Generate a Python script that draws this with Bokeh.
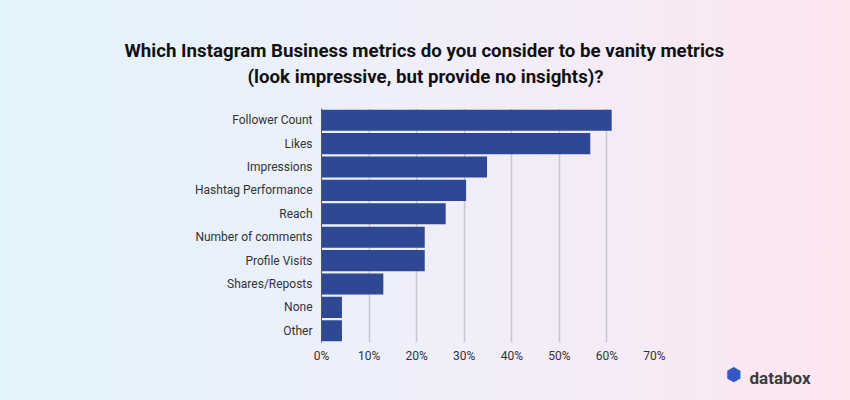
from bokeh.plotting import figure
from bokeh.models import (FactorRange, Range1d, FixedTicker, NumeralTickFormatter,
                          Title, InlineStyleSheet)
from bokeh.embed import file_html
from bokeh.resources import INLINE

# ---- data ----
categories = ["Follower Count", "Likes", "Impressions", "Hashtag Performance", "Reach",
              "Number of comments", "Profile Visits", "Shares/Reposts", "None", "Other"]
shares = [0.61, 0.565, 0.348, 0.304, 0.261, 0.217, 0.217, 0.13, 0.043, 0.043]
x_ticks = [0, 0.1, 0.2, 0.3, 0.4, 0.5, 0.6, 0.7]
title_lines = ["Which Instagram Business metrics do you consider to be vanity metrics",
               "(look impressive, but provide no insights)?"]
brand = "databox"

W, H = 850, 400
p = figure(width=W, height=H, output_backend="svg", toolbar_location=None,
           y_range=FactorRange(factors=list(reversed(categories)), range_padding=0),
           x_range=Range1d(0, 0.70),
           min_border_left=321, min_border_right=196, min_border_top=108, min_border_bottom=58)

p.hbar(y=categories, right=shares, left=0, height=0.9, color="#2e4894", line_color=None)

p.background_fill_alpha = 0
p.border_fill_alpha = 0
p.outline_line_color = None
p.stylesheets = [InlineStyleSheet(css=":host { background: linear-gradient(90deg, #e2f4fc 0%, #efeffa 50%, #fde6f0 100%); }")]

p.ygrid.grid_line_color = None
p.xgrid.grid_line_color = "#c6c6ce"
p.xgrid.grid_line_width = 1.5

p.xaxis.ticker = FixedTicker(ticks=x_ticks)
p.xaxis.formatter = NumeralTickFormatter(format="0%")
p.xaxis.axis_line_color = None
p.xaxis.major_tick_line_color = None
p.xaxis.minor_tick_line_color = None
p.xaxis.major_tick_out = 0
p.xaxis.major_tick_in = 0
p.xaxis.minor_tick_out = 0
p.xaxis.major_label_standoff = 6
p.xaxis.major_label_text_font = "Roboto"
p.xaxis.major_label_text_font_size = "12px"
p.xaxis.major_label_text_color = "#333333"

p.yaxis.axis_line_color = "#555555"
p.yaxis.axis_line_width = 1
p.yaxis.major_tick_line_color = None
p.yaxis.minor_tick_line_color = None
p.yaxis.major_tick_out = 0
p.yaxis.major_tick_in = 0
p.yaxis.major_label_standoff = 9
p.yaxis.major_label_text_font = "Roboto"
p.yaxis.major_label_text_font_size = "12px"
p.yaxis.major_label_text_color = "#333333"

# title (two lines), left-aligned with negative offsets to center on the page
p.title.text = title_lines[0]
p.title.align = "left"
p.title.offset = -197
p.title.standoff = 2
p.title.text_font = "Roboto"
p.title.text_font_style = "bold"
p.title.text_font_size = "18.7px"
p.title.text_color = "#111111"
spacer = Title(text="\u200b", text_font="Roboto", text_font_size="12px", standoff=4,
               text_color="#eeeef8")
line2 = Title(text=title_lines[1], align="left", offset=-74, standoff=2, text_font="Roboto",
              text_font_style="bold", text_font_size="18.7px", text_color="#111111")
p.add_layout(spacer, "above")
p.add_layout(line2, "above")

# logo: brand name below the x axis, hexagon mark in the right panel
p.add_layout(Title(text=brand, align="left", offset=428, standoff=0, text_font="Roboto",
                   text_font_style="bold", text_font_size="17px", text_color="#3b3b3b"), "below")
p.add_layout(Title(text="\u2b23", align="right", offset=-40, standoff=139, text_font="DejaVu Sans",
                   text_font_size="18px", text_color="#3457c4"), "right")

open("out.html", "w").write(file_html(p, INLINE))
